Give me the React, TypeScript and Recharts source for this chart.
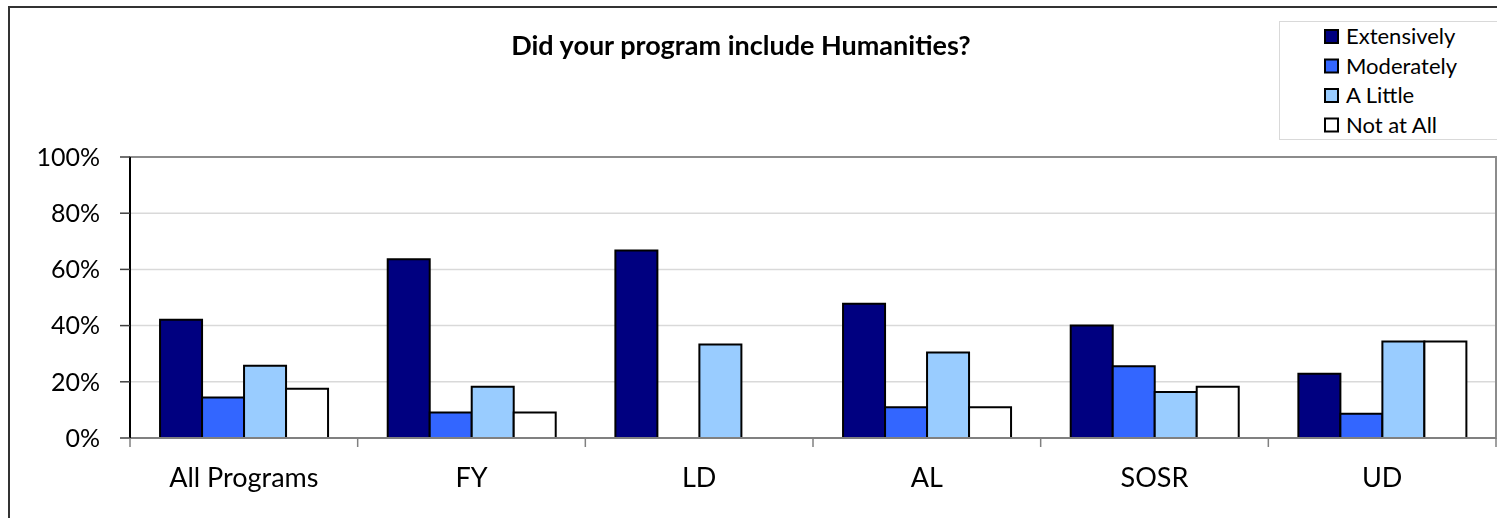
import React from 'react';
import {
  BarChart,
  Bar,
  XAxis,
  YAxis,
  CartesianGrid,
  ReferenceArea
} from 'recharts';

const categories = ['All Programs', 'FY', 'LD', 'AL', 'SOSR', 'UD'];
const extensively = [42.1, 63.6, 66.7, 47.8, 40.0, 22.9];
const moderately = [14.4, 9.1, 0, 10.9, 25.5, 8.6];
const aLittle = [25.7, 18.2, 33.3, 30.4, 16.4, 34.3];
const notAtAll = [17.5, 9.1, 0, 10.9, 18.2, 34.3];
const yTicks = [0, 20, 40, 60, 80, 100];

const series = [
  { key: 'extensively', name: 'Extensively', color: '#000080' },
  { key: 'moderately', name: 'Moderately', color: '#3366FF' },
  { key: 'aLittle', name: 'A Little', color: '#99CCFF' },
  { key: 'notAtAll', name: 'Not at All', color: '#FFFFFF' }
];

const data = categories.map((name, i) => ({
  name,
  extensively: extensively[i],
  moderately: moderately[i],
  aLittle: aLittle[i],
  notAtAll: notAtAll[i]
}));

const FONT = 'Lato, "Open Sans", sans-serif';

// legend drawn outside the chart so it doesn't eat plot width
const LegendBox = () => (
  <svg
    width={218}
    height={120}
    style={{ position: 'absolute', left: 1271, top: 15, display: 'block' }}
  >
    <rect x={0.5} y={0.5} width={230} height={118} fill="#fff" stroke="#d9d9d9" />
    {series.map((s, i) => {
      const base = 23 + i * 29.5;
      return (
        <g key={s.key}>
          <rect x={46} y={base - 14} width={13} height={13} fill={s.color} stroke="#000" strokeWidth={2} />
          <text x={67} y={base} fontSize={22} fontFamily={FONT} fill="#000">
            {s.name}
          </text>
        </g>
      );
    })}
  </svg>
);

// category label plus tick marks on the band edges (Excel style)
const CategoryTick = (props: any) => {
  const { x, y, payload, index, visibleTicksCount } = props;
  const half = payload.offset || 0;
  const axisY = y - 30;
  const isLast = index === (visibleTicksCount ?? categories.length) - 1;
  return (
    <g>
      <line x1={x - half} x2={x - half} y1={axisY} y2={axisY + 9} stroke="#808080" strokeWidth={1.5} />
      {isLast && (
        <line x1={x + half} x2={x + half} y1={axisY} y2={axisY + 9} stroke="#808080" strokeWidth={1.5} />
      )}
      <text x={x} y={y} dy="0.71em" textAnchor="middle" fontSize={27} fontFamily={FONT} fill="#000">
        {payload.value}
      </text>
    </g>
  );
};

const App: React.FC = () => {
  return (
    <div style={{ position: 'fixed', left: 8, top: 6, width: 1489, height: 512, fontFamily: FONT }}>
      <div
        style={{
          position: 'absolute',
          left: 0,
          top: 0,
          width: 1489,
          height: 512,
          borderLeft: '2px solid #333',
          borderTop: '2px solid #333',
          boxSizing: 'border-box'
        }}
      />
      <div
        style={{
          position: 'absolute',
          left: 0,
          top: 25,
          width: 1466,
          textAlign: 'center',
          fontWeight: 'bold',
          fontSize: 27,
          lineHeight: '27px',
          color: '#000'
        }}
      >
        Did your program include Humanities?
      </div>
      <div style={{ position: 'absolute', left: 0, top: 0 }}>
        <BarChart
          width={1489}
          height={512}
          data={data}
          margin={{ top: 151, right: 1, left: 0, bottom: 0 }}
          barCategoryGap="13.2%"
          barGap={0}
        >
          <CartesianGrid horizontal vertical={false} stroke="#d9d9d9" strokeWidth={1.5} />
          <ReferenceArea
            x1="All Programs"
            x2="UD"
            y1={0}
            y2={100}
            fill="none"
            stroke="#8c8c8c"
            strokeWidth={2}
            ifOverflow="visible"
          />
          <XAxis
            dataKey="name"
            height={80}
            axisLine={{ stroke: '#808080', strokeWidth: 2 }}
            tickLine={false}
            tickSize={0}
            tickMargin={30}
            tick={<CategoryTick />}
            interval={0}
          />
          <YAxis
            width={122}
            domain={[0, 100]}
            ticks={yTicks}
            tickFormatter={(v) => `${v}%`}
            axisLine={{ stroke: '#000', strokeWidth: 2 }}
            tickLine={{ stroke: '#404040', strokeWidth: 1.5 }}
            tickSize={10}
            tickMargin={20}
            tick={{ fill: '#000', fontSize: 25, fontFamily: FONT }}
          />
          {series.map((s) => (
            <Bar
              key={s.key}
              dataKey={s.key}
              name={s.name}
              fill={s.color}
              stroke="#000"
              strokeWidth={2}
              isAnimationActive={false}
            />
          ))}
        </BarChart>
      </div>
      <LegendBox />
    </div>
  );
};

export default App;
